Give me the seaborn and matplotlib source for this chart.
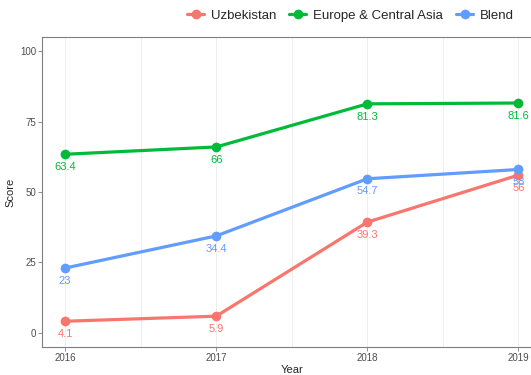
import pandas as pd
import matplotlib
matplotlib.use("Agg")
import matplotlib.pyplot as plt
import seaborn as sns

years = [2016, 2017, 2018, 2019]
uzbekistan = [4.1, 5.9, 39.3, 56]
europe = [63.4, 66, 81.3, 81.6]
blend = [23, 34.4, 54.7, 58]
series_names = ["Uzbekistan", "Europe & Central Asia", "Blend"]
colores = {"Uzbekistan": "#F8766D", "Europe & Central Asia": "#00BA38", "Blend": "#619CFF"}

df = pd.DataFrame({
    "Year": years * 3,
    "Score": uzbekistan + europe + blend,
    "serie": [n for n in series_names for _ in years],
})

sns.set_theme(style="white")
plt.rcParams["font.family"] = ["Liberation Sans", "DejaVu Sans"]

fig = plt.figure(figsize=(5.31, 3.75), dpi=100)
ax = fig.add_axes([0.080, 0.075, 0.939, 0.826])

ax = sns.lineplot(
    data=df, x="Year", y="Score", hue="serie", hue_order=series_names,
    palette=colores, marker="o", markersize=7, markeredgewidth=0,
    linewidth=2.3, ax=ax, legend=True,
)

# etiquetas debajo de cada punto
for nombre in series_names:
    sub = df[df["serie"] == nombre]
    for x, y in zip(sub["Year"], sub["Score"]):
        ax.text(x, y - 4.5, format(y, "g"), color=colores[nombre],
                ha="center", va="center", fontsize=8)

ax.set_xlim(2016 - 0.15, 2019 + 0.15)
ax.set_ylim(-5, 105)
ax.set_xticks(years)
ax.set_xticks([2016.5, 2017.5, 2018.5], minor=True)
ax.set_yticks([0, 25, 50, 75, 100])
ax.xaxis.grid(True, which="both", color="#EBEBEB", linewidth=0.6)
ax.yaxis.grid(False)
ax.tick_params(axis="both", which="major", length=3, width=0.6, color="#7F7F7F",
               labelsize=7, labelcolor="#4D4D4D", pad=1.5, bottom=True, left=True)
ax.tick_params(axis="x", which="minor", length=0)
for s in ax.spines.values():
    s.set_color("#7F7F7F")
    s.set_linewidth(0.8)
ax.set_xlabel("Year", fontsize=8, labelpad=1)
ax.set_ylabel("Score", fontsize=8, labelpad=3)

handles, labels = ax.get_legend_handles_labels()
ax.get_legend().remove()
fig.legend(handles, labels, loc="center", bbox_to_anchor=(0.66, 0.958), ncol=3,
           frameon=False, fontsize=9.5, handlelength=1.3, columnspacing=1.0,
           handletextpad=0.5)

fig.savefig("out.png", dpi=100)
